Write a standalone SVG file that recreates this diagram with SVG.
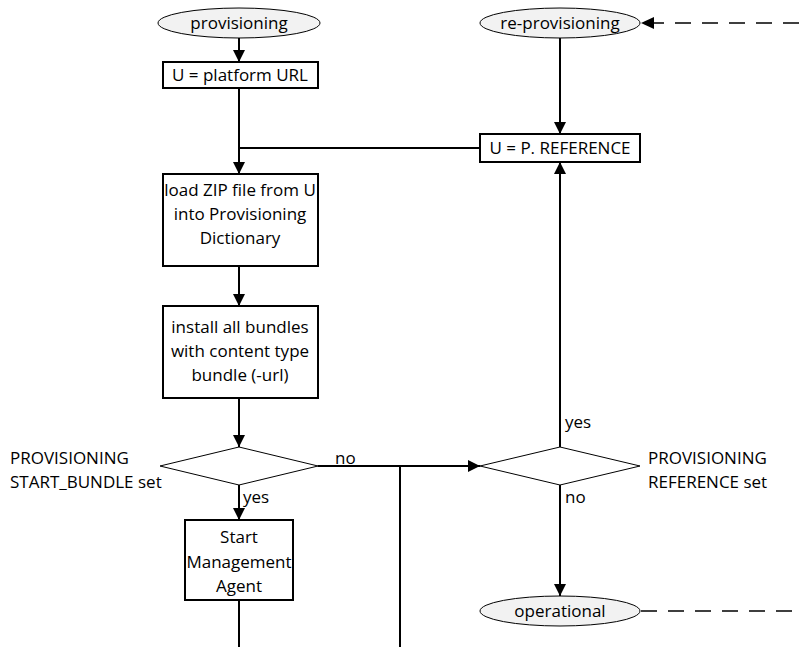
<svg xmlns="http://www.w3.org/2000/svg" width="799" height="647" viewBox="0 0 799 647">
<style>
text{font-family:"Open Sans","Noto Sans","Liberation Sans",sans-serif;font-size:17px;fill:#000}
.c{text-anchor:middle}
.box{fill:#fff;stroke:#000;stroke-width:2}
.ell{fill:#f2f2f2;stroke:#000;stroke-width:1}
.dia{fill:#fff;stroke:#000;stroke-width:1}
.ln{fill:none;stroke:#000;stroke-width:2}
.dash{fill:none;stroke:#000;stroke-width:1.5;stroke-dasharray:16,11}
</style>
<defs>
<marker id="ahs" viewBox="0 0 10 10" refX="10" refY="5" markerWidth="12" markerHeight="12" markerUnits="userSpaceOnUse" orient="auto"><path d="M0,0 L10,5 L0,10 z" fill="#000"/></marker>
</defs>
<g id="connectors">
<path class="ln" d="M239,38 V62" marker-end="url(#ahs)"/>
<path class="ln" d="M560,38 V134" marker-end="url(#ahs)"/>
<path class="ln" d="M239,88 V174" marker-end="url(#ahs)"/>
<path class="ln" d="M480,148 H239"/>
<path class="ln" d="M239,266 V306" marker-end="url(#ahs)"/>
<path class="ln" d="M239,398 V447" marker-end="url(#ahs)"/>
<path class="ln" d="M318,466 H480" marker-end="url(#ahs)"/>
<path class="ln" d="M400,466 V647"/>
<path class="ln" d="M239,485 V520" marker-end="url(#ahs)"/>
<path class="ln" d="M239,600 V647"/>
<path class="ln" d="M560,447 V162" marker-end="url(#ahs)"/>
<path class="ln" d="M560,485 V596" marker-end="url(#ahs)"/>
<path class="dash" d="M799,23 H650"/>
<path d="M641,23 L654,17 L654,29 z" fill="#000"/>
<path class="dash" d="M641,611 H799"/>
<text x="335" y="464">no</text>
<text x="243" y="503">yes</text>
<text x="565" y="428">yes</text>
<text x="565" y="503">no</text>
</g>
<g id="provisioning"><ellipse class="ell" cx="239" cy="23" rx="81" ry="15"/><text class="c" x="239" y="29">provisioning</text></g>
<g id="re-provisioning"><ellipse class="ell" cx="560" cy="23" rx="80" ry="15"/><text class="c" x="560" y="29">re-provisioning</text></g>
<g id="u-platform"><rect class="box" x="163" y="62" width="155" height="26"/><text class="c" x="240" y="81">U = platform URL</text></g>
<g id="u-reference"><rect class="box" x="480" y="134" width="160" height="28"/><text class="c" x="560" y="154">U = P. REFERENCE</text></g>
<g id="load-zip"><rect class="box" x="163" y="174" width="155" height="92"/>
<text class="c" x="240" y="196">load ZIP file from U</text>
<text class="c" x="240" y="220">into Provisioning</text>
<text class="c" x="240" y="244">Dictionary</text></g>
<g id="install"><rect class="box" x="163" y="306" width="155" height="92"/>
<text class="c" x="240" y="333">install all bundles</text>
<text class="c" x="240" y="357">with content type</text>
<text class="c" x="240" y="381">bundle (-url)</text></g>
<g id="start-bundle"><path class="dia" d="M160,466 L239,447 L318,466 L239,485 z"/>
<text x="10" y="464">PROVISIONING</text><text x="10" y="488">START_BUNDLE set</text></g>
<g id="reference-set"><path class="dia" d="M480,466 L560,447 L640,466 L560,485 z"/>
<text x="648" y="464">PROVISIONING</text><text x="648" y="488">REFERENCE set</text></g>
<g id="start-agent"><rect class="box" x="185" y="520" width="108" height="80"/>
<text class="c" x="239" y="543">Start</text>
<text class="c" x="239" y="568">Management</text>
<text class="c" x="239" y="592">Agent</text></g>
<g id="operational"><ellipse class="ell" cx="560" cy="611" rx="80" ry="15"/><text class="c" x="560" y="617">operational</text></g>
</svg>
